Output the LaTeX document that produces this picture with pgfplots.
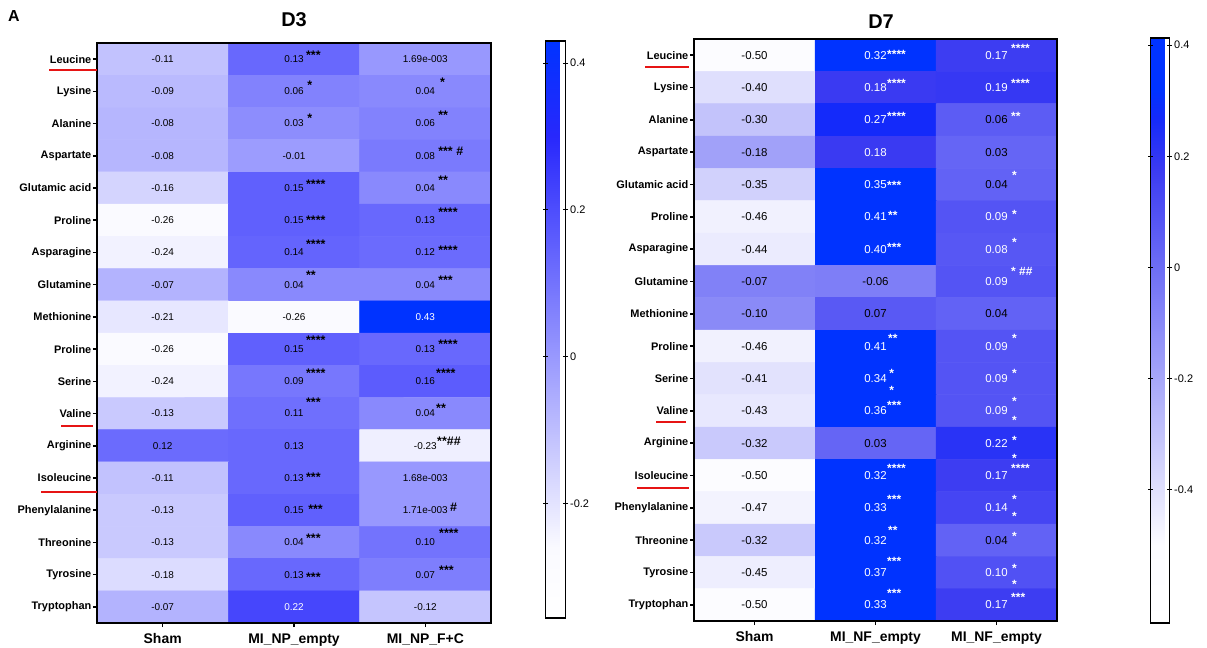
\documentclass[border=0pt]{standalone}
\usepackage{pgfplots}
\pgfplotsset{compat=1.18}
\usepackage{fontspec}
\setmainfont{Liberation Sans}
\newcommand{\fs}[1]{\fontsize{#1}{#1}\selectfont}
\definecolor{ulred}{RGB}{230,20,20}
\pgfplotsset{
 colormap={dthree}{rgb255(0pt)=(255,255,255) rgb255(96pt)=(250,250,255) rgb255(656pt)=(40,40,252) rgb255(786pt)=(0,51,255)},
 colormap={dseven}{rgb255(0pt)=(255,255,255) rgb255(140pt)=(252,252,255) rgb255(820pt)=(58,58,242) rgb255(910pt)=(20,42,250) rgb255(960pt)=(0,51,255) rgb255(1053pt)=(0,51,255)},
 hm/.style={
  scale only axis, y dir=reverse,
  xmin=-0.5, xmax=2.5, ymin=-0.5, ymax=17.5,
  axis on top, axis line style={line width=1.8bp},
  xtick={0,1,2}, ytick={0,...,17},
  yticklabels={Leucine,Lysine,Alanine,Aspartate,Glutamic acid,Proline,Asparagine,Glutamine,Methionine,Proline,Serine,Valine,Arginine,Isoleucine,Phenylalanine,Threonine,Tyrosine,Tryptophan},
  tick align=outside, xtick pos=bottom, ytick pos=left,
  major tick length=4bp, tick style={line width=1.5bp, black},
  yticklabel style={font=\bfseries\fs{11}, inner sep=1.5bp},
  xticklabel style={font=\bfseries\fs{14}, yshift=-3bp},
  colorbar,
 },
 cb/.style={
  scale only axis, axis line style={line width=1.1bp},
  ytick pos=both, yticklabel pos=right, tick align=center,
  major tick length=5bp, tick style={line width=1bp, black},
  yticklabel style={font=\fs{11}, inner sep=2bp},
 },
 vals/.style={only marks, mark=none, nodes near coords, point meta=explicit symbolic,
  every node near coord/.append style={anchor=center, inner sep=0pt, font=\fs{#1}}},
 stars/.style={only marks, mark=none, nodes near coords, point meta=explicit symbolic,
  every node near coord/.append style={anchor=west, inner sep=0pt, yshift=-3bp, font=\bfseries\fs{#1}}},
}
\begin{document}
\begin{tikzpicture}
\useasboundingbox (0,0) rectangle (1207bp,648bp);
% ---------------- D3 ----------------
\begin{axis}[hm, at={(97bp,25bp)}, anchor=south west, width=394bp, height=580bp,
  xticklabels={Sham,MI\_NP\_empty,MI\_NP\_F+C},
  colormap name=dthree, point meta min=-0.356, point meta max=0.43,
  colorbar style={cb, at={(parent axis.north east)}, anchor=north west, xshift=46bp, yshift=2bp,
    width=20bp, height=577bp, ytick={-0.2,0,0.2,0.4}, yticklabels={-0.2,0,0.2,0.4}}]
\addplot[matrix plot*, mesh/cols=3, point meta=explicit] table[meta=c]{
x y c
0 0 -0.11
1 0 0.13
2 0 0.00169
0 1 -0.09
1 1 0.06
2 1 0.04
0 2 -0.08
1 2 0.03
2 2 0.06
0 3 -0.08
1 3 -0.01
2 3 0.08
0 4 -0.16
1 4 0.15
2 4 0.04
0 5 -0.26
1 5 0.15
2 5 0.13
0 6 -0.24
1 6 0.14
2 6 0.12
0 7 -0.07
1 7 0.04
2 7 0.04
0 8 -0.21
1 8 -0.26
2 8 0.43
0 9 -0.26
1 9 0.15
2 9 0.13
0 10 -0.24
1 10 0.09
2 10 0.16
0 11 -0.13
1 11 0.11
2 11 0.04
0 12 0.12
1 12 0.13
2 12 -0.23
0 13 -0.11
1 13 0.13
2 13 0.00168
0 14 -0.13
1 14 0.15
2 14 0.00171
0 15 -0.13
1 15 0.04
2 15 0.10
0 16 -0.18
1 16 0.13
2 16 0.07
0 17 -0.07
1 17 0.22
2 17 -0.12
};
\addplot[vals=10, every node near coord/.append style={text=black}] table[meta=t]{
x y t
0 0 -0.11
1 0 0.13
2 0 1.69e-003
0 1 -0.09
1 1 0.06
2 1 0.04
0 2 -0.08
1 2 0.03
2 2 0.06
0 3 -0.08
1 3 -0.01
2 3 0.08
0 4 -0.16
1 4 0.15
2 4 0.04
0 5 -0.26
1 5 0.15
2 5 0.13
0 6 -0.24
1 6 0.14
2 6 0.12
0 7 -0.07
1 7 0.04
2 7 0.04
0 8 -0.21
1 8 -0.26
0 9 -0.26
1 9 0.15
2 9 0.13
0 10 -0.24
1 10 0.09
2 10 0.16
0 11 -0.13
1 11 0.11
2 11 0.04
0 12 0.12
1 12 0.13
2 12 -0.23
0 13 -0.11
1 13 0.13
2 13 1.68e-003
0 14 -0.13
1 14 0.15
2 14 1.71e-003
0 15 -0.13
1 15 0.04
2 15 0.10
0 16 -0.18
1 16 0.13
2 16 0.07
0 17 -0.07
2 17 -0.12
};
\addplot[vals=10, every node near coord/.append style={text=white}] table[meta=t]{
x y t
2 8 0.43
1 17 0.22
};
\addplot[stars=12.5, every node near coord/.append style={text=black}] table[col sep=comma, meta=t]{
x,y,t
1.091,-0.22,***
1.10,0.71,*
2.112,0.62,*
1.10,1.73,*
2.097,1.64,**
2.097,2.75,***~\#
1.091,3.78,****
2.097,3.66,**
1.091,4.90,****
2.097,4.65,****
1.091,5.65,****
2.097,5.84,****
1.091,6.61,**
2.097,6.77,***
1.091,8.63,****
2.097,8.75,****
1.091,9.65,****
2.081,9.65,****
1.091,10.56,***
2.081,10.74,**
2.089,11.77,**\#\#
1.091,12.88,***
1.107,13.88,***
2.188,13.80,\#
1.091,14.78,***
2.104,14.63,****
1.091,16.0,***
2.104,15.78,***
};
\end{axis}
% ---------------- D7 ----------------
\begin{axis}[hm, at={(694bp,27bp)}, anchor=south west, width=363bp, height=582bp,
  xticklabels={Sham,MI\_NF\_empty,MI\_NF\_empty},
  colormap name=dseven, point meta min=-0.64, point meta max=0.413,
  colorbar style={cb, at={(parent axis.north east)}, anchor=north west, xshift=85bp, yshift=1bp,
    width=19bp, height=585bp, ytick={-0.4,-0.2,0,0.2,0.4}, yticklabels={-0.4,-0.2,0,0.2,0.4}}]
\addplot[matrix plot*, mesh/cols=3, point meta=explicit] table[meta=c]{
x y c
0 0 -0.50
1 0 0.32
2 0 0.17
0 1 -0.40
1 1 0.18
2 1 0.19
0 2 -0.30
1 2 0.27
2 2 0.06
0 3 -0.18
1 3 0.18
2 3 0.03
0 4 -0.35
1 4 0.35
2 4 0.04
0 5 -0.46
1 5 0.41
2 5 0.09
0 6 -0.44
1 6 0.40
2 6 0.08
0 7 -0.07
1 7 -0.06
2 7 0.09
0 8 -0.10
1 8 0.07
2 8 0.04
0 9 -0.46
1 9 0.41
2 9 0.09
0 10 -0.41
1 10 0.34
2 10 0.09
0 11 -0.43
1 11 0.36
2 11 0.09
0 12 -0.32
1 12 0.03
2 12 0.22
0 13 -0.50
1 13 0.32
2 13 0.17
0 14 -0.47
1 14 0.33
2 14 0.14
0 15 -0.32
1 15 0.32
2 15 0.04
0 16 -0.45
1 16 0.37
2 16 0.10
0 17 -0.50
1 17 0.33
2 17 0.17
};
\addplot[vals=11.5, every node near coord/.append style={text=black}] table[meta=t]{
x y t
0 0 -0.50
0 1 -0.40
0 2 -0.30
2 2 0.06
0 3 -0.18
2 3 0.03
0 4 -0.35
2 4 0.04
0 5 -0.46
0 6 -0.44
0 7 -0.07
1 7 -0.06
0 8 -0.10
1 8 0.07
2 8 0.04
0 9 -0.46
0 10 -0.41
0 11 -0.43
0 12 -0.32
1 12 0.03
0 13 -0.50
0 14 -0.47
0 15 -0.32
2 15 0.04
0 16 -0.45
0 17 -0.50
};
\addplot[vals=11.5, every node near coord/.append style={text=white}] table[meta=t]{
x y t
1 0 0.32
2 0 0.17
1 1 0.18
2 1 0.19
1 2 0.27
1 3 0.18
1 4 0.35
1 5 0.41
2 5 0.09
1 6 0.40
2 6 0.08
2 7 0.09
1 9 0.41
2 9 0.09
1 10 0.34
2 10 0.09
1 11 0.36
2 11 0.09
2 12 0.22
1 13 0.32
2 13 0.17
1 14 0.33
2 14 0.14
1 15 0.32
1 16 0.37
2 16 0.10
1 17 0.33
2 17 0.17
};
\addplot[stars=12, every node near coord/.append style={text=white}] table[col sep=comma, meta=t]{
x,y,t
1.095,-0.13,****
2.12,-0.31,****
1.095,0.77,****
2.12,0.77,****
1.095,1.79,****
2.12,1.79,**
1.095,3.92,***
2.128,3.61,*
1.103,4.86,**
2.128,4.82,*
1.095,5.84,***
2.128,5.69,*
2.12,6.58,*~\#\#
1.103,8.68,**
2.128,8.68,*
1.112,9.74,*
1.112,10.29,*
2.128,9.74,*
1.095,10.73,***
2.128,10.63,*
2.128,11.19,*
2.128,11.81,*
2.128,12.37,*
1.095,12.68,****
2.12,12.68,****
1.095,13.64,***
2.128,13.64,*
2.128,14.16,*
1.103,14.60,**
2.128,14.78,*
1.095,15.55,***
2.128,15.77,*
2.128,16.27,*
1.095,16.54,***
2.12,16.67,***
};
\end{axis}
% ---------------- annotations ----------------
\node[font=\bfseries\fs{16}] at (14bp,632bp) {A};
\node[font=\bfseries\fs{20}] at (294bp,628bp) {D3};
\node[font=\bfseries\fs{20}] at (881bp,626bp) {D7};
\begin{scope}[ulred, line width=2bp]
\draw (49bp,578bp) -- (97bp,578bp);
\draw (61bp,222bp) -- (93bp,222bp);
\draw (41bp,156bp) -- (97bp,156bp);
\draw (645bp,581bp) -- (689bp,581bp);
\draw (656bp,226bp) -- (686bp,226bp);
\draw (637bp,160bp) -- (689bp,160bp);
\end{scope}
\end{tikzpicture}
\end{document}
